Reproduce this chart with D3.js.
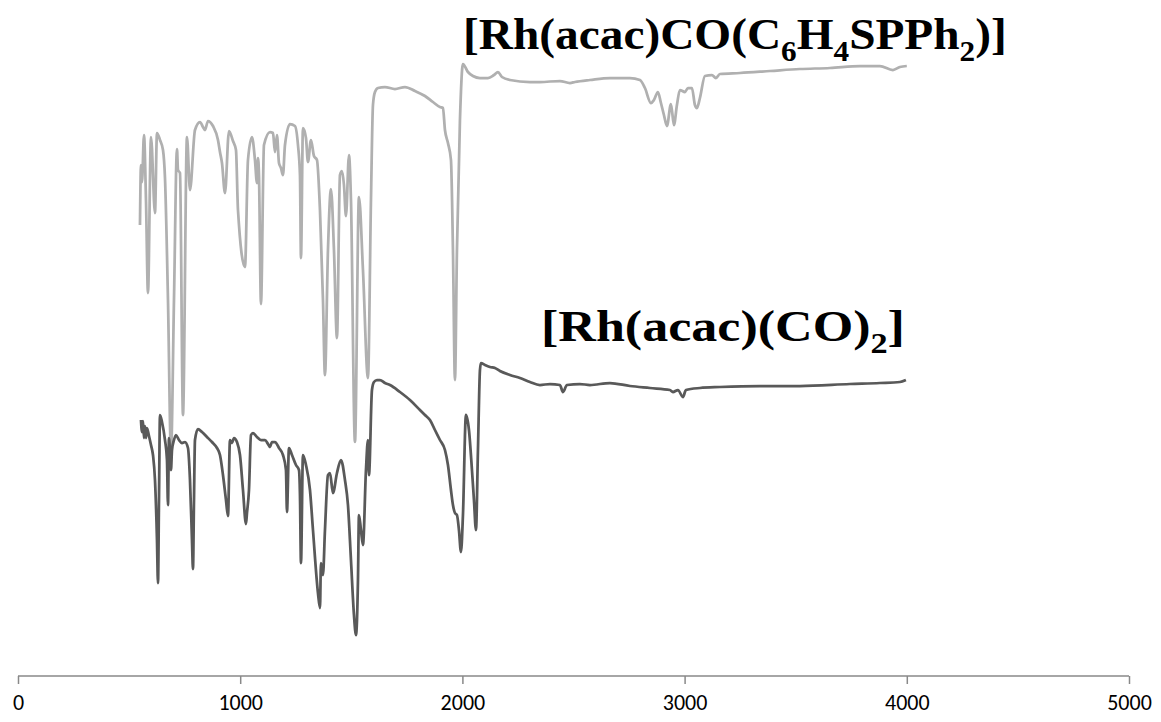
<!DOCTYPE html>
<html>
<head>
<meta charset="utf-8">
<script src="https://cdnjs.cloudflare.com/ajax/libs/d3/7.8.5/d3.min.js"></script>
<style>
  body { margin: 0; background: #ffffff; }
  #chart { width: 1161px; height: 722px; }
</style>
</head>
<body>
<div id="chart"></div>
<script>
// x ticks
var xTicks = [0, 1000, 2000, 3000, 4000, 5000];

// [Rh(acac)CO(C6H4SPPh2)] spectrum : wavenumber / signal (arbitrary offset units)
var wnLight = [549,553.5,558,567,576,585,598.5,616.5,625.5,639,652.5,661.5,675,688.5,702,715.5,720,729,742.5,760.5,774,796.5,819,832.5,841.5,855,877.5,900,909,918,931.5,949.5,967.5,981,990,1021.5,1035,1053,1066.5,1075.5,1080,1084.5,1093.5,1107,1134,1147.5,1156.5,1165.5,1174.5,1183.5,1192.5,1201.5,1224,1246.5,1260,1269,1273.5,1282.5,1296,1305,1318.5,1332,1345.5,1359,1372.5,1381.5,1395,1408.5,1422,1435.5,1449,1458,1467,1476,1489.5,1498.5,1516.5,1534.5,1552.5,1575,1588.5,1597.5,1606.5,1620,1651.5,1696.5,1741.5,1786.5,1831.5,1867.5,1899,1912.5,1921.5,1935,1948.5,1957.5,1966.5,1975.5,1989,2002.5,2025,2047.5,2079,2115,2142,2160,2178,2214,2304,2349,2439,2484,2506.5,2574,2664,2754,2799,2821.5,2848.5,2862,2880,2893.5,2907,2920.5,2938.5,2952,2965.5,2979,3001.5,3015,3033,3046.5,3055.5,3069,3091.5,3123,3141,3159,3249,3384,3519,3654,3789,3879,3937.5,3969,4000];
var sigLight = [45.1,51.1,49.4,54.1,47.6,38.3,53.9,46.3,54.3,53.6,52.6,49.8,37.6,22.4,37.6,52.7,50.6,50.3,26.1,53.9,48.6,54.6,55.4,54.9,54.6,55.5,55.0,53.6,52.4,51.3,48.3,54.5,53.5,52.6,46.6,40.9,51.6,53.9,51.6,49.3,51.8,50.1,37.2,53.1,54.4,54.3,52.4,54.1,51.3,50.8,50.1,53.1,55.2,55.0,53.1,50.1,41.8,54.8,53.8,51.4,53.6,52.0,51.6,46.6,37.6,30.1,42.6,48.7,42.6,33.8,50.1,50.5,49.1,46.0,52.1,47.6,23.4,47.9,40.6,29.8,47.6,57.1,58.4,58.8,58.9,58.7,58.9,58.5,58.0,57.4,56.9,56.8,54.6,53.3,51.6,42.6,29.6,42.6,55.6,61.2,60.4,60.0,59.8,59.8,60.1,60.4,59.9,59.6,59.4,59.4,59.5,59.3,59.4,59.6,59.8,59.8,59.6,58.8,57.3,57.6,58.4,57.3,56.1,55.0,57.2,55.1,57.1,58.6,58.4,58.8,58.8,57.1,56.8,57.8,60.0,60.1,59.8,60.2,60.3,60.5,60.7,60.8,61.0,61.0,60.6,60.9,61.0];

// [Rh(acac)(CO)2] spectrum
var wnDark = [553.5,558,562.5,567,571.5,576,580.5,589.5,598.5,607.5,616.5,625.5,630,634.5,639,648,661.5,670.5,675,679.5,688.5,693,702,711,724.5,738,751.5,765,774,783,787.5,792,796.5,810,828,850.5,873,895.5,909,922.5,936,945,954,963,972,985.5,999,1012.5,1026,1030.5,1039.5,1048.5,1057.5,1075.5,1093.5,1111.5,1125,1134,1143,1156.5,1174.5,1192.5,1206,1210.5,1219.5,1233,1251,1264.5,1269,1273.5,1282.5,1296,1314,1327.5,1350,1359,1363.5,1372.5,1381.5,1395,1404,1417.5,1435.5,1453.5,1471.5,1485,1498.5,1512,1521,1530,1534.5,1543.5,1552.5,1566,1575,1579.5,1593,1602,1615.5,1629,1651.5,1674,1719,1764,1809,1831.5,1854,1876.5,1899,1921.5,1935,1948.5,1957.5,1966.5,1975.5,1984.5,1993.5,2002.5,2016,2029.5,2043,2052,2061,2070,2079,2083.5,2101.5,2124,2146.5,2169,2214,2259,2304,2349,2394,2439,2452.5,2470.5,2529,2574,2664,2754,2844,2934,2947.5,2970,2992.5,3006,3069,3159,3339,3519,3744,3879,3969,3996];
var sigDark = [25.6,24.4,25.5,23.8,25.0,23.8,24.8,24.0,23.1,22.1,19.6,13.6,9.3,17.6,26.1,25.4,23.6,21.6,17.1,23.8,20.6,22.6,23.6,24.1,23.6,23.3,23.4,22.8,19.6,13.6,10.7,17.6,23.6,24.7,24.4,23.9,23.4,22.8,22.1,20.1,17.6,16.0,23.6,23.3,23.8,23.4,22.1,18.6,15.2,16.3,18.6,24.1,24.3,23.9,23.6,23.6,23.2,22.9,23.4,23.4,22.8,22.1,20.6,16.4,22.8,22.1,21.1,20.6,18.1,11.3,22.1,21.1,18.6,14.6,8.3,6.8,11.3,10.1,14.6,20.1,20.3,18.3,20.3,21.6,19.6,17.1,11.6,6.1,4.1,9.6,16.1,14.6,13.1,20.6,23.6,20.1,28.6,29.4,29.6,29.6,29.3,29.1,28.4,27.6,26.6,26.1,25.6,24.6,23.6,22.6,21.1,18.6,17.1,16.3,16.1,14.6,12.4,16.1,26.1,24.6,20.6,17.6,14.6,22.6,30.6,31.3,31.1,30.9,30.8,30.5,30.1,29.8,29.4,29.1,29.2,29.1,28.4,29.1,29.2,29.1,29.3,29.0,28.8,28.6,28.4,28.6,27.9,28.6,28.8,28.9,29.0,29.0,29.2,29.3,29.4,29.6];

var place = document.getElementById("chart"),
    w = 1161,
    h = 722;

var svg = d3.select(place)
  .append("svg")
  .attr("width", w)
  .attr("height", h);

var x = d3.scaleLinear().domain([0, 5000]).range([18, 1129]);
var y = d3.scaleLinear().domain([0, 67.6]).range([676, 0]);

// axis
var axis = svg.append("g")
  .attr("transform", "translate(0,676)")
  .call(d3.axisBottom(x).tickValues(xTicks).tickSize(8).tickPadding(10).tickFormat(d3.format("d")));

axis.select(".domain").attr("stroke", "#898989").attr("stroke-width", 1.5)
  .attr("d", "M" + x(0) + ",0H" + x(5000));
axis.selectAll(".tick line").attr("stroke", "#898989").attr("stroke-width", 1.5);
axis.selectAll(".tick text")
  .style("font-family", "Carlito, Calibri, 'Open Sans', sans-serif")
  .style("font-size", "22px")
  .attr("fill", "#000");

var line = d3.line()
  .curve(d3.curveMonotoneX)
  .x(function(d){return x(d[0]);})
  .y(function(d){return y(d[1]);});

svg.append("path")
  .datum(d3.zip(wnLight, sigLight))
  .attr("fill", "none")
  .attr("stroke", "#b0b0b0")
  .attr("stroke-width", 2.75)
  .attr("stroke-linejoin", "round")
  .attr("d", line);

svg.append("path")
  .datum(d3.zip(wnDark, sigDark))
  .attr("fill", "none")
  .attr("stroke", "#595959")
  .attr("stroke-width", 2.75)
  .attr("stroke-linejoin", "round")
  .attr("d", line);

// labels with subscripts
function label(parts, x0, base, width) {
  var g = svg.append("g");
  var t = g.append("text")
    .style("font-family", "'Liberation Serif', 'Times New Roman', serif")
    .style("font-weight", "bold")
    .style("font-size", "44px")
    .attr("fill", "#000");
  parts.forEach(function(p){
    if (p.sub) {
      t.append("tspan").text(p.t).style("font-size", "29px").attr("dy", 12);
    } else {
      t.append("tspan").text(p.t).attr("dy", p.after ? -12 : 0);
    }
  });
  var bb = t.node().getBBox();
  g.attr("transform", "translate(" + x0 + "," + base + ") scale(" + (width / bb.width) + ",1)");
}

label([{t:"[Rh(acac)CO(C"},{t:"6",sub:true},{t:"H",after:true},{t:"4",sub:true},{t:"SPPh",after:true},{t:"2",sub:true},{t:")]",after:true}], 463, 49, 544);
label([{t:"[Rh(acac)(CO)"},{t:"2",sub:true},{t:"]",after:true}], 541, 341, 364);
</script>
</body>
</html>
